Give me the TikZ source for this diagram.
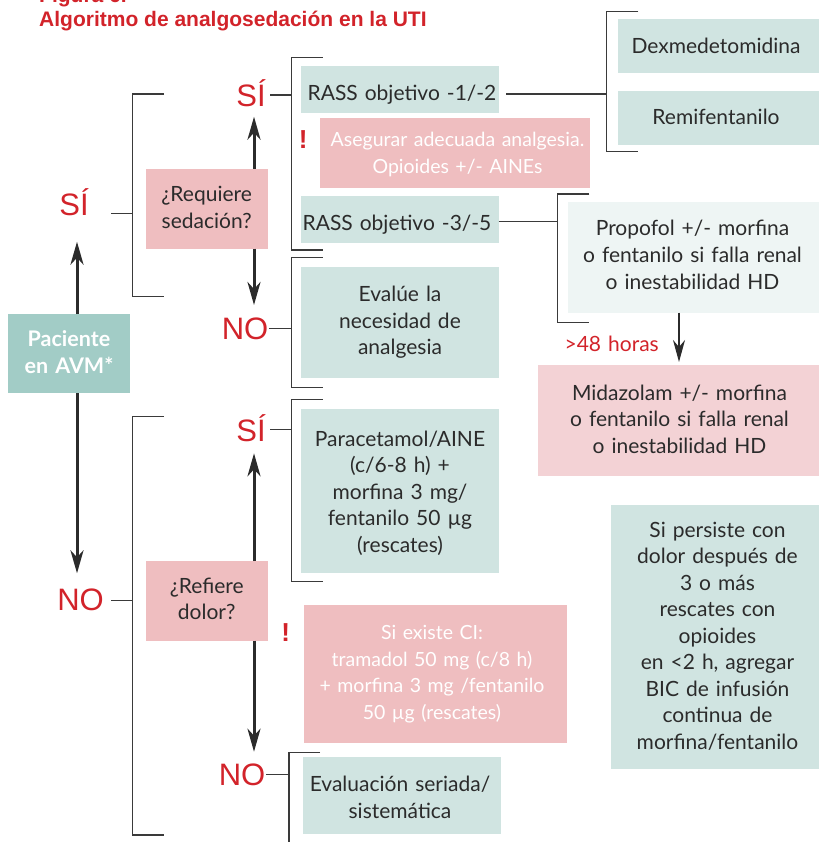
\documentclass[tikz,border=0pt]{standalone}
\usepackage{fontspec}
\setmainfont{Lato}
\newfontfamily\arialf{Liberation Sans}
\usetikzlibrary{arrows.meta}
\definecolor{tealdk}{HTML}{A2CCC6}
\definecolor{teallt}{HTML}{D0E4E1}
\definecolor{tealvl}{HTML}{EEF5F4}
\definecolor{pinkbx}{HTML}{EFBEC0}
\definecolor{pinklt}{HTML}{F3D2D5}
\definecolor{redtx}{HTML}{D2232A}
\definecolor{darktx}{HTML}{2B2B2B}
\definecolor{linec}{HTML}{3A3A3A}
\begin{document}
\begin{tikzpicture}[x=1pt,y=-1pt,
  box/.style={inner sep=0pt, outer sep=0pt, anchor=north west},
  txt/.style={inner sep=0pt, anchor=base, text width=300pt, align=center, text=darktx, font=\fontsize{21}{26.5}\selectfont},
  wtxt/.style={txt, text=white, font=\fontsize{19.5}{26.7}\selectfont},
  yn/.style={inner sep=0pt, anchor=base, text=redtx, font=\arialf\fontsize{31}{31}\selectfont},
  bang/.style={inner sep=0pt, anchor=base, text=redtx, font=\arialf\bfseries\fontsize{26}{26}\selectfont},
  ttl/.style={inner sep=0pt, anchor=base west, text=redtx, font=\arialf\bfseries\fontsize{21}{24}\selectfont},
  brk/.style={draw=linec, line width=1.5pt},
  marr/.style={draw=darktx, line width=3pt, -{Stealth[length=23pt,width=13pt,inset=7pt]}},
  sarr/.style={draw=darktx, line width=1.8pt, -{Stealth[length=22pt,width=12pt,inset=7pt]}}
]
\useasboundingbox (0,0) rectangle (819,842);
% title
\node[ttl] (fig) at (39,2.5) {Figura 6.};
\node[ttl] (title) at (39,26.7) {Algoritmo de analgosedación en la UTI};
% boxes
\node[box, fill=tealdk, minimum width=122pt, minimum height=79.3pt] (pac) at (8,314) {};
\node[box, fill=pinkbx, minimum width=122pt, minimum height=79.7pt] (req) at (146,169) {};
\node[box, fill=pinkbx, minimum width=122pt, minimum height=79.7pt] (ref) at (146,561) {};
\node[box, fill=teallt, minimum width=197.7pt, minimum height=46.7pt] (rass1) at (301,66) {};
\node[box, fill=pinkbx, minimum width=270pt, minimum height=70pt] (warn1) at (320,117.7) {};
\node[box, fill=teallt, minimum width=197.7pt, minimum height=46.7pt] (rass2) at (301,196) {};
\node[box, fill=teallt, minimum width=197.7pt, minimum height=111pt] (evalue) at (301,266.7) {};
\node[box, fill=teallt, minimum width=200.7pt, minimum height=53.7pt] (dexm) at (618.3,19) {};
\node[box, fill=teallt, minimum width=200.7pt, minimum height=54pt] (remi) at (618.3,91) {};
\node[box, fill=tealvl, minimum width=250.7pt, minimum height=111pt] (prop) at (568.3,201.7) {};
\node[box, fill=pinklt, minimum width=280.7pt, minimum height=110.7pt] (mid) at (538.3,365) {};
\node[box, fill=teallt, minimum width=197.7pt, minimum height=164.3pt] (para) at (301,409) {};
\node[box, fill=pinkbx, minimum width=262.7pt, minimum height=137.7pt] (warn2) at (304,605) {};
\node[box, fill=teallt, minimum width=208pt, minimum height=264.3pt] (pers) at (611,505) {};
\node[box, fill=teallt, minimum width=197.7pt, minimum height=77pt] (evals) at (303,757.3) {};
% texts
\node[txt, text=white, font=\bfseries\fontsize{21.5}{26.6}\selectfont] (tpac) at (69,346.7) {Paciente\\en AVM*};
\node[txt] (treq) at (206.7,201.7) {¿Requiere\\sedación?};
\node[txt] (tref) at (206.7,593.3) {¿Refiere\\dolor?};
\node[txt] (trass1) at (402,101) {RASS objetivo -1/-2};
\node[wtxt] (twarn1) at (457.5,146.7) {Asegurar adecuada analgesia.\\Opioides +/- AINEs};
\node[txt] (trass2) at (397,230) {RASS objetivo -3/-5};
\node[txt] (tevalue) at (400,301.7) {Evalúe la\\necesidad de\\analgesia};
\node[txt] (tdexm) at (716,53.3) {Dexmedetomidina};
\node[txt] (tremi) at (716,125) {Remifentanilo};
\node[txt] (tprop) at (692.5,236) {Propofol +/- morfina\\o fentanilo si falla renal\\o inestabilidad HD};
\node[txt, text=redtx] (t48) at (611.7,351.7) {>48 horas};
\node[txt] (tmid) at (679.5,400) {Midazolam +/- morfina\\o fentanilo si falla renal\\o inestabilidad HD};
\node[txt] (tpara) at (400,446) {Paracetamol/AINE\\(c/6-8 h) +\\morfina 3 mg/\\fentanilo 50 µg\\(rescates)};
\node[wtxt] (twarn2) at (432,639.3) {Si existe CI:\\tramadol 50 mg (c/8 h)\\+ morfina 3 mg /fentanilo\\50 µg (rescates)};
\node[txt] (tpers) at (717.5,537.3) {Si persiste con\\dolor después de\\3 o más\\rescates con\\opioides\\en <2 h, agregar\\BIC de infusión\\continua de\\morfina/fentanilo};
\node[txt] (tevals) at (400,791.7) {Evaluación seriada/\\sistemática};
% yes / no labels
\node[yn] (siL) at (74,215) {SÍ};
\node[yn] (siU) at (251,106.7) {SÍ};
\node[yn] (noU) at (245,339.3) {NO};
\node[yn] (noL) at (80.5,610) {NO};
\node[yn] (siD) at (251,441) {SÍ};
\node[yn] (noD) at (242,785) {NO};
\node[bang] (bang1) at (303.3,148.3) {!};
\node[bang] (bang2) at (285.7,641.7) {!};
% arrows
\coordinate (tSiL) at (77,241.7);
\coordinate (tNoL) at (77,573.3);
\coordinate (tSiU) at (254,116.7);
\coordinate (tNoU) at (254,305);
\coordinate (tSiD) at (254,453.3);
\coordinate (tNoD) at (254,751.7);
\coordinate (t48a) at (679,362);
\draw[marr] (pac.north -| tSiL) -- (tSiL);
\draw[marr] (pac.south -| tNoL) -- (tNoL);
\draw[marr] (req.north -| tSiU) -- (tSiU);
\draw[marr] (req.south -| tNoU) -- (tNoU);
\draw[marr] (ref.north -| tSiD) -- (tSiD);
\draw[marr] (ref.south -| tNoD) -- (tNoD);
\draw[sarr] (prop.south -| t48a) -- (t48a);
% brackets
\coordinate (s1) at (111,213.3); \coordinate (b1) at (132.3,213.3);
\draw[brk] (s1) -- (b1);
\draw[brk] (164,94) -- (132.3,94) -- (132.3,296.7) -- (164,296.7);
\coordinate (s2) at (270,95); \coordinate (b2) at (291.7,95);
\draw[brk] (s2) -- (b2);
\draw[brk] (322.7,57.7) -- (291.7,57.7) -- (291.7,250) -- (322.7,250);
\coordinate (s3) at (269,328.3); \coordinate (b3) at (291.7,328.3);
\draw[brk] (s3) -- (b3);
\draw[brk] (322.7,257.7) -- (291.7,257.7) -- (291.7,387.7) -- (322.7,387.7);
\coordinate (s4) at (506,94); \coordinate (b4) at (606.7,94);
\draw[brk] (s4) -- (b4);
\draw[brk] (638.3,11.7) -- (606.7,11.7) -- (606.7,151.7) -- (638.3,151.7);
\coordinate (s5) at (498.7,221.7); \coordinate (b5) at (557.3,221.7);
\draw[brk] (s5) -- (b5);
\draw[brk] (589.3,194) -- (557.3,194) -- (557.3,322.7) -- (589.3,322.7);
\coordinate (s6) at (111,600.7); \coordinate (b6) at (132.3,600.7);
\draw[brk] (s6) -- (b6);
\draw[brk] (164,416.7) -- (132.3,416.7) -- (132.3,835) -- (164,835);
\coordinate (s7) at (270,429.3); \coordinate (b7) at (291.7,429.3);
\draw[brk] (s7) -- (b7);
\draw[brk] (322.7,399.3) -- (291.7,399.3) -- (291.7,581.7) -- (322.7,581.7);
\coordinate (s8) at (266,774.3); \coordinate (b8) at (289,774.3);
\draw[brk] (s8) -- (b8);
\draw[brk] (320,752.3) -- (289,752.3) -- (289,846);
\end{tikzpicture}
\end{document}
